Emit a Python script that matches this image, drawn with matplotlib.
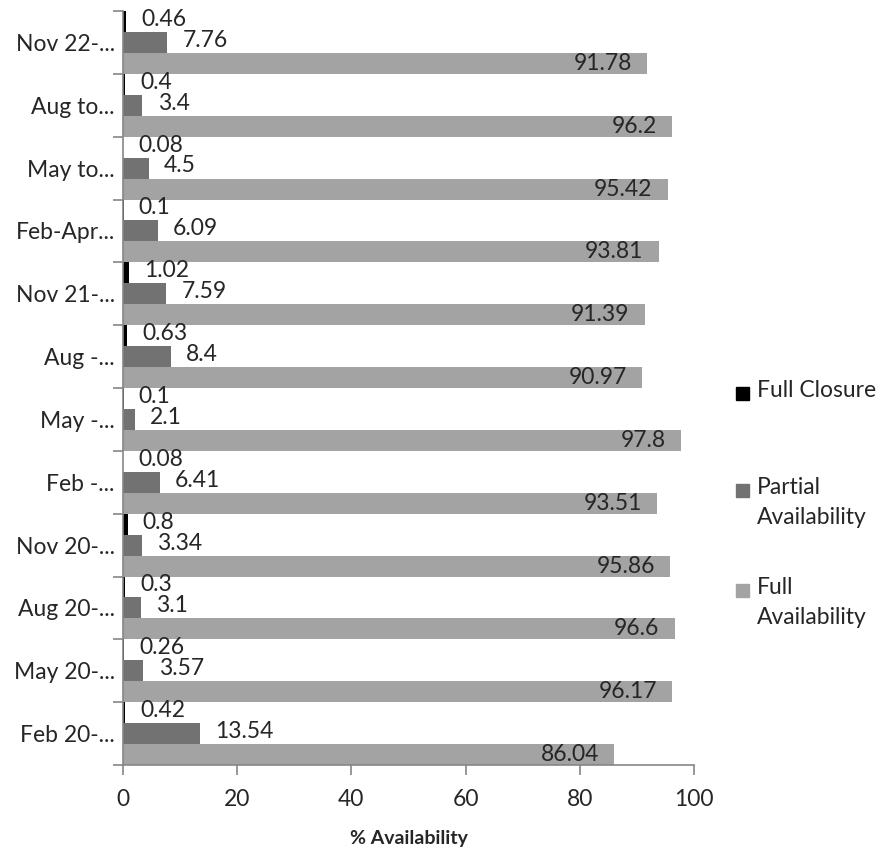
import matplotlib.pyplot as plt
import numpy as np
from matplotlib.patches import Rectangle

plt.rcParams['font.family'] = ['Lato', 'DejaVu Sans']

# bottom to top
categories = ['Feb 20-...', 'May 20-...', 'Aug 20-...', 'Nov 20-...', 'Feb -...', 'May -...',
              'Aug -...', 'Nov 21-...', 'Feb-Apr...', 'May to...', 'Aug to...', 'Nov 22-...']
full_closure = [0.42, 0.26, 0.3, 0.8, 0.08, 0.1, 0.63, 1.02, 0.1, 0.08, 0.4, 0.46]
partial = [13.54, 3.57, 3.1, 3.34, 6.41, 2.1, 8.4, 7.59, 6.09, 4.5, 3.4, 7.76]
full_avail = [86.04, 96.17, 96.6, 95.86, 93.51, 97.8, 90.97, 91.39, 93.81, 95.42, 96.2, 91.78]
series_names = ['Full Closure', 'Partial\nAvailability', 'Full\nAvailability']
colors = ['#000000', '#727272', '#a3a3a3']

txt = '#262626'
spine = '#868686'
fs = 16.5

fig = plt.figure(figsize=(8.82, 8.57), dpi=100)
ax = fig.add_axes([123 / 882, 1 - 765 / 857, (694 - 123) / 882, (765 - 11) / 857])

y = np.arange(len(categories))
h = 1 / 3
series = [full_closure, partial, full_avail]
offsets = [h, 0, -h]

for vals, off, col in zip(series, offsets, colors):
    ax.barh(y + off, vals, height=h, color=col, linewidth=0)
    for yi, v in zip(y, vals):
        if vals is full_avail:
            ax.annotate(f'{v:g}', (v, yi + off), xytext=(-11, 0), textcoords='offset points',
                        ha='right', va='center', fontsize=fs, color=txt)
        else:
            ax.annotate(f'{v:g}', (v, yi + off), xytext=(11, 1.5), textcoords='offset points',
                        ha='left', va='center', fontsize=fs, color=txt)

ax.set_xlim(0, 100)
ax.set_ylim(-0.5, len(categories) - 0.5)
ax.set_xticks([0, 20, 40, 60, 80, 100])
ax.set_yticks(y)
ax.set_yticklabels(categories)
ax.set_yticks(np.arange(-0.5, len(categories)), minor=True)
ax.tick_params(axis='y', which='major', length=0, pad=6, labelsize=fs, labelcolor=txt)
ax.tick_params(axis='y', which='minor', length=7, color=spine, width=1.2)
ax.tick_params(axis='x', length=7, color=spine, width=1.2, pad=10, labelsize=fs, labelcolor=txt)
for s in ['top', 'right']:
    ax.spines[s].set_visible(False)
for s in ['left', 'bottom']:
    ax.spines[s].set_color(spine)
    ax.spines[s].set_linewidth(1.2)
ax.set_xlabel('% Availability', fontsize=14, fontweight='bold', color=txt, labelpad=15)

# legend
leg_y = [393, 490, 590]
for name, col, ly in zip(series_names, colors, leg_y):
    fig.add_artist(Rectangle((736 / 882, 1 - (ly + 7) / 857), 13 / 882, 13 / 857,
                             transform=fig.transFigure, color=col))
    fig.text(757 / 882, 1 - (ly - 13) / 857, name, fontsize=fs, color=txt,
             va='top', ha='left', linespacing=1.55)

fig.savefig('out.png', dpi=100)
